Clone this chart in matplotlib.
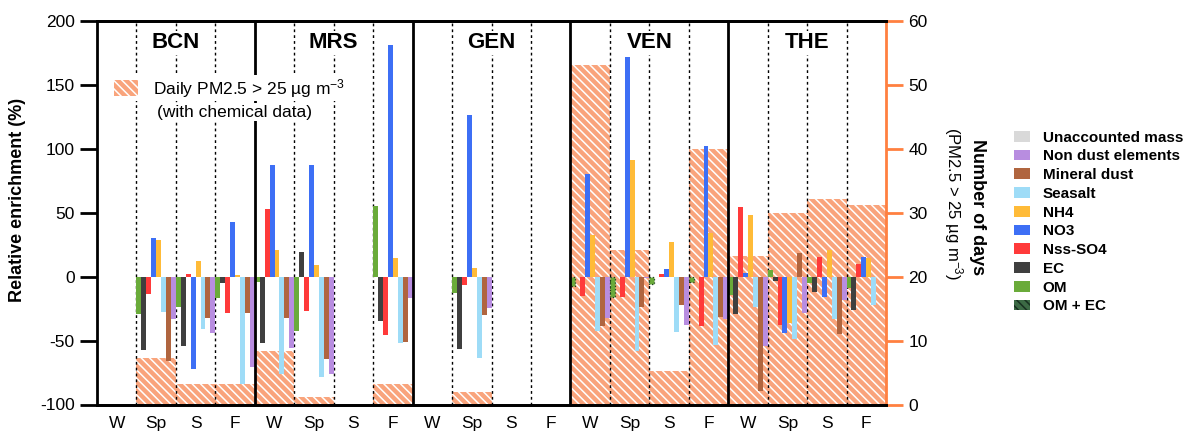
import numpy as np
import matplotlib
matplotlib.use('Agg')
import matplotlib.pyplot as plt
from matplotlib.patches import Patch

plt.rcParams['font.family'] = ['Liberation Sans', 'DejaVu Sans']
plt.rcParams['mathtext.fontset'] = 'custom'
plt.rcParams['mathtext.rm'] = 'Liberation Sans'
plt.rcParams['mathtext.it'] = 'Liberation Sans:italic'
plt.rcParams['mathtext.bf'] = 'Liberation Sans:bold'
plt.rcParams['hatch.linewidth'] = 1.1
plt.rcParams['axes.unicode_minus'] = False

nan = np.nan
cities = ['BCN', 'MRS', 'GEN', 'VEN', 'THE']
seasons = ['W', 'Sp', 'S', 'F']

# values in city-major order: BCN W,Sp,S,F, MRS W..F, GEN, VEN, THE
om = [nan, -29, -23.6, -16.5, -4, -42.5, nan, 55.3, nan, -12.7, nan, nan,
      nan, nan, nan, nan, -14.3, 5.2, -5, -9]
om_ec = [nan, nan, nan, nan, nan, nan, nan, nan, nan, nan, nan, nan,
         -7.6, -15.7, -6, -4.5, nan, nan, nan, nan]
ec = [nan, -57.5, -54.4, -4.8, -52, 19.5, nan, -34.8, nan, -56.5, nan, nan,
      nan, nan, nan, nan, -29.4, -3.5, -12, -26.2]
so4 = [nan, -13.7, 2, -28.5, 53, -26.8, nan, -45.4, nan, -6.4, nan, nan,
       -15.3, -15.7, 2, -38.8, 54.4, -38, 15.4, 10]
no3 = [nan, 30.4, -72.4, 43, 87.5, 87.5, nan, 181.5, nan, 126.5, nan, nan,
       80.3, 171.5, 6, 102.6, 2.9, -44, -16, 15.4]
nh4 = [nan, 28.8, 12, 1, 21, 9, nan, 14.6, nan, 6.8, nan, nan,
       32.5, 91.3, 27, 34, 48.3, -36.6, 20.9, 14.6]
seasalt = [nan, -27.6, -41, -83.6, -76, -78.5, nan, -51.8, nan, -63.6, nan, nan,
           -42.7, -58.3, -43, -53.6, -23.7, -48.8, -33.3, -22.3]
mineral = [nan, -66, -32, -28.5, -32, -64.6, nan, -51, nan, -29.9, nan, nan,
           -38.8, -23.6, -22.3, -31.6, -89.6, 18.4, -45, nan]
nondust = [nan, -33, -44, -71, -56, -76, nan, -16.6, nan, -24.4, nan, nan,
           -32.3, -1, -37.6, -33.4, -54.3, -28.4, -18, nan]
days = [nan, 7.3, 3.2, 3.2, 8.3, 1.1, nan, 3.2, nan, 2.0, nan, nan,
        53.1, 24.2, 5.2, 40.0, 23.2, 30.0, 32.1, 31.2]

colors = {
    'Unaccounted mass': '#d9d9d9',
    'Non dust elements': '#b88de0',
    'Mineral dust': '#b0653f',
    'Seasalt': '#9edcf7',
    'NH4': '#ffbb38',
    'NO3': '#3d6ff5',
    'Nss-SO4': '#ff3a3a',
    'EC': '#3f3f3f',
    'OM': '#6aab3a',
}
orange = '#ff8040'
hatch_face = '#f9a47c'
hatch_pat = '\\\\\\\\'

fig = plt.figure(figsize=(11.87, 4.36), dpi=100)
ax = fig.add_axes([97 / 1187, 1 - 404.5 / 436, 789 / 1187, 383.5 / 436])
ax2 = ax.twinx()
ax.set_zorder(ax2.get_zorder() + 1)
ax.patch.set_visible(False)

n = len(days)
x = np.arange(n)

# days bars (right axis)
ax2.bar(x + 0.5, days, width=1.0, facecolor=hatch_face, edgecolor='white',
        hatch=hatch_pat, linewidth=0)
ax2.set_ylim(0, 60)
ax2.set_yticks(np.arange(0, 61, 10))

# component bars (left axis)
slots = [('OM', om), ('EC', ec), ('Nss-SO4', so4), ('NO3', no3), ('NH4', nh4),
         ('Seasalt', seasalt), ('Mineral dust', mineral), ('Non dust elements', nondust)]
w = 1 / 8
for i, (name, vals) in enumerate(slots):
    ax.bar(x + (i + 0.5) * w, vals, width=w, color=colors[name], linewidth=0, zorder=3)
ax.bar(x + 0.5 * w, om_ec, width=w, facecolor=colors['OM'], edgecolor='#1f3f22',
       linewidth=0.9, linestyle=':', zorder=3)

ax.set_xlim(0, n)
ax.set_ylim(-100, 200)
ax.set_yticks(np.arange(-100, 201, 50))

# separators
for k in range(1, n):
    if k % 4 == 0:
        ax.axvline(k, color='black', lw=2, zorder=4)
    else:
        ax.axvline(k, color='black', lw=1, ls=(0, (2, 2.2)), zorder=2)

# city labels
for c, city in enumerate(cities):
    ax.text(c * 4 + 2, 0.943, city, transform=ax.get_xaxis_transform(),
            ha='center', va='center', fontsize=16, fontweight='bold', zorder=5,
            bbox=dict(facecolor='white', edgecolor='none', pad=1))

# season tick labels
ax.set_xticks(x + 0.5)
ax.set_xticklabels(seasons * len(cities), fontsize=12.5)
ax.tick_params(axis='x', length=0, pad=8)

# spines and ticks
for s in ['left', 'bottom', 'top']:
    ax.spines[s].set_linewidth(2)
ax.spines['right'].set_visible(False)
ax2.spines['left'].set_visible(False)
ax2.spines['top'].set_linewidth(2)
ax2.spines['bottom'].set_linewidth(2)
ax2.spines['right'].set_color(orange)
ax2.spines['right'].set_linewidth(2)
ax.tick_params(axis='y', length=12, width=2, labelsize=12.5, pad=4)
ax2.tick_params(axis='y', length=12, width=2, colors=orange, labelsize=12.5, pad=4)
for t in ax2.get_yticklabels():
    t.set_color('black')

# hatch legend
hleg = ax.legend(handles=[Patch(facecolor=hatch_face, edgecolor='white', hatch=hatch_pat, linewidth=0)],
                 labels=['Daily PM2.5 > 25 µg m$^{-3}$'],
                 loc='upper left', bbox_to_anchor=(0.008, 0.882), fontsize=12.5,
                 frameon=True, facecolor='white', edgecolor='none', framealpha=1,
                 handlelength=1.4, handleheight=1.0, handletextpad=0.85, borderpad=0.1)
hleg.set_zorder(6)
ax.text((234.5 - 97) / 789, 1 - (112 - 21) / 383.5, '(with chemical data)',
        transform=ax.transAxes, ha='center', va='center', fontsize=12.5, zorder=7,
        bbox=dict(facecolor='white', edgecolor='none', pad=1.0))

# axis labels
fig.text(18 / 1187, 1 - 200 / 436, 'Relative enrichment (%)', rotation=90,
         ha='center', va='center', fontsize=13, fontweight='bold')
fig.text(977 / 1187, 1 - 207 / 436, 'Number of days', rotation=270,
         ha='center', va='center', fontsize=13, fontweight='bold')
fig.text(953 / 1187, 1 - 204 / 436, '(PM2.5 > 25 µg m$^{-3}$)', rotation=270,
         ha='center', va='center', fontsize=12)

# component legend
leg_names = ['Unaccounted mass', 'Non dust elements', 'Mineral dust', 'Seasalt', 'NH4',
             'NO3', 'Nss-SO4', 'EC', 'OM']
handles = [Patch(facecolor=colors[nm], edgecolor='none') for nm in leg_names]
handles.append(Patch(facecolor='#3c6a45', edgecolor='#173020', hatch=hatch_pat, linewidth=0))
labels = leg_names + ['OM + EC']
fig.legend(handles=handles, labels=labels, loc='upper left',
           bbox_to_anchor=(1006 / 1187, 1 - 123 / 436), frameon=False,
           prop={'weight': 'bold', 'size': 11}, handlelength=1.1, handleheight=0.7,
           labelspacing=0.31, handletextpad=0.8, borderpad=0)

fig.savefig('out.png', dpi=100)
